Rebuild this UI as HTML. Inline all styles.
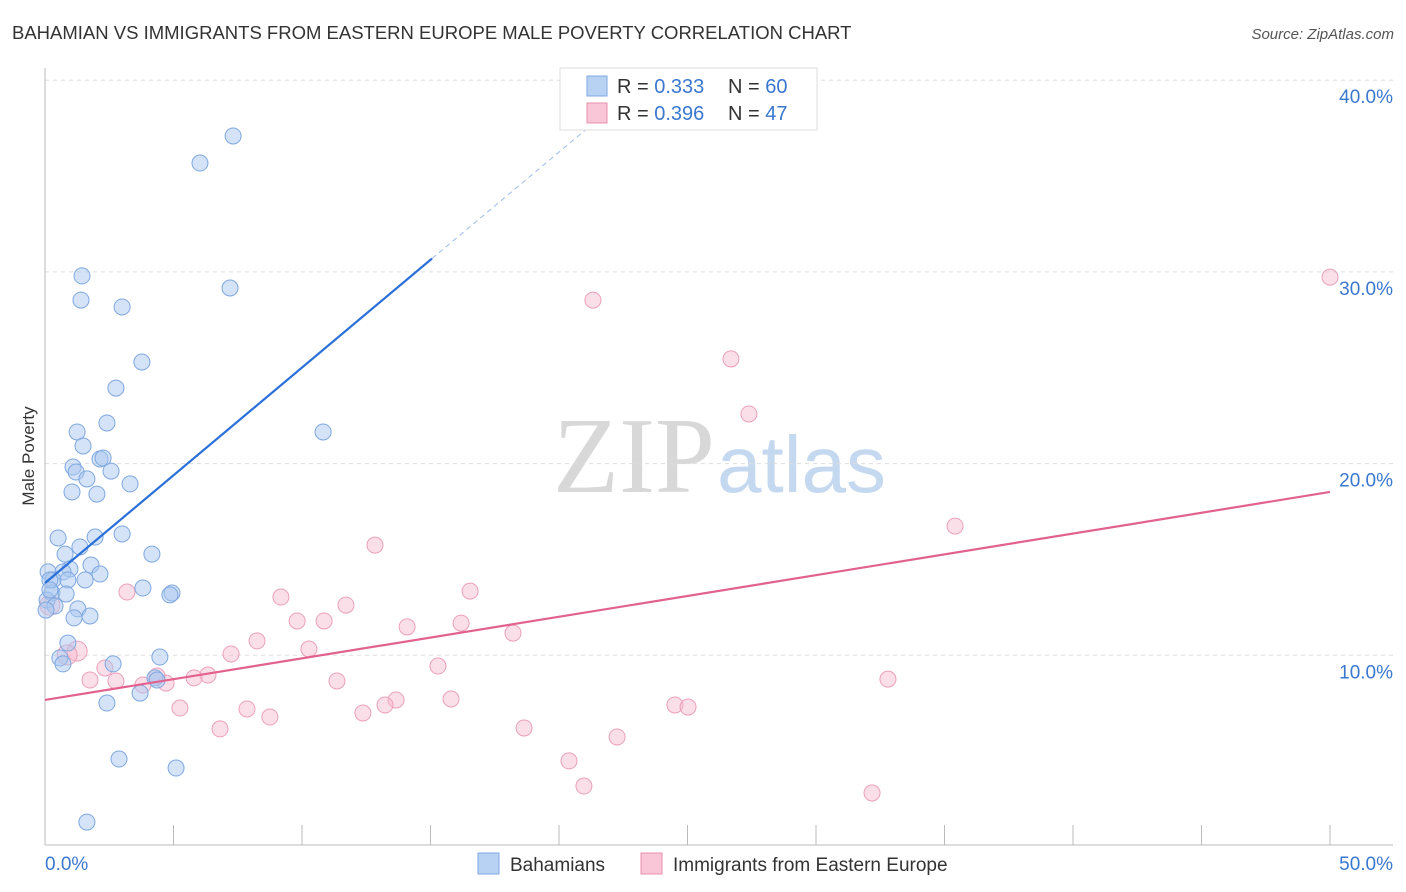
<!DOCTYPE html>
<html><head><meta charset="utf-8"><style>
body{margin:0;background:#fff;font-family:"Liberation Sans",sans-serif;}
#wrap{position:relative;width:1406px;height:892px;overflow:hidden;}
</style></head><body>
<div id="wrap">
<svg id="svg" width="1406" height="892" xmlns="http://www.w3.org/2000/svg">
<text x="12" y="39" font-size="18.5" fill="#333">BAHAMIAN VS IMMIGRANTS FROM EASTERN EUROPE MALE POVERTY CORRELATION CHART</text>
<text x="1394" y="39" font-size="15" fill="#555" font-style="italic" text-anchor="end">Source: ZipAtlas.com</text>
<text transform="translate(34,456) rotate(-90)" font-size="17" fill="#333" text-anchor="middle">Male Poverty</text>
<text x="553" y="492" font-size="108" fill="#d8d8d8" font-family="Liberation Serif,serif">ZIP</text>
<text x="717" y="492" font-size="80" fill="#c4d8f0">atlas</text>
<g id="grid"></g><g id="axes"></g><g id="marks"></g>
<g>
<rect x="560" y="68" width="257" height="62" fill="#fff" stroke="#ddd"/>
<rect x="587" y="76" width="20" height="20" fill="#b8d2f4" stroke="#7fa8e0"/>
<rect x="587" y="103" width="20" height="20" fill="#f8c6d6" stroke="#e890ae"/>
<text x="617" y="93" font-size="20" fill="#333">R = <tspan fill="#3a78d0">0.333</tspan></text>
<text x="728" y="93" font-size="20" fill="#333">N = <tspan fill="#3a78d0">60</tspan></text>
<text x="617" y="120" font-size="20" fill="#333">R = <tspan fill="#3a78d0">0.396</tspan></text>
<text x="728" y="120" font-size="20" fill="#333">N = <tspan fill="#3a78d0"> 47</tspan></text>
</g>
<g>
<rect x="478" y="853" width="21" height="21" fill="#b8d2f4" stroke="#7fa8e0"/>
<text x="510" y="871" font-size="19" fill="#333">Bahamians</text>
<rect x="641" y="853" width="21" height="21" fill="#f8c6d6" stroke="#e890ae"/>
<text x="673" y="871" font-size="19" fill="#333">Immigrants from Eastern Europe</text>
</g>
</svg>
</div>
<script>
const blueX=[6.03,7.32,1.44,1.40,3.00,7.20,3.77,2.76,2.41,1.25,1.48,10.82,1.09,1.21,2.14,2.26,2.57,1.63,3.31,1.05,2.02,0.51,1.95,3.00,1.36,0.78,4.16,1.79,0.97,0.70,2.14,0.12,0.31,0.89,1.56,3.81,4.94,4.86,0.27,0.82,0.08,0.39,1.28,1.75,1.13,0.89,0.58,0.70,2.65,4.47,4.28,4.36,3.70,2.41,2.88,5.10,1.63,0.19,0.19,0.04];
const blueY=[35.68,37.09,29.79,28.53,28.17,29.16,25.30,23.94,22.12,21.65,20.92,21.65,19.82,19.56,20.24,20.29,19.61,19.20,18.94,18.52,18.41,16.12,16.17,16.33,15.65,15.28,15.28,14.71,14.50,14.35,14.24,14.35,13.93,13.93,13.93,13.51,13.25,13.15,13.25,13.20,12.88,12.57,12.42,12.05,11.95,10.64,9.86,9.55,9.55,9.91,8.82,8.71,8.03,7.51,4.59,4.12,1.30,13.93,13.41,12.36];
const pinkX=[50.0,21.32,26.69,27.39,35.41,12.84,16.54,3.19,9.18,11.71,9.81,10.86,14.09,16.19,18.21,8.25,10.27,1.25,0.86,7.24,15.29,2.33,6.34,5.80,11.36,2.76,1.75,3.81,4.36,4.71,32.80,13.66,13.23,15.80,24.51,25.02,5.25,7.86,12.37,8.75,6.81,18.64,22.26,20.39,20.97,32.18,0.19];
const pinkY=[29.73,28.53,25.46,22.59,16.74,15.75,13.35,13.30,13.04,12.62,11.79,11.79,11.48,11.68,11.16,10.75,10.33,10.22,10.02,10.07,9.44,9.34,8.97,8.82,8.66,8.66,8.71,8.45,8.92,8.55,8.76,7.67,7.41,7.72,7.41,7.30,7.25,7.20,6.99,6.78,6.16,6.21,5.74,4.49,3.18,2.82,12.62];
const blueTrend=[13.77,1.124]; // intercept, slope
const pinkTrend=[7.67,0.217];
const yTicks=[10,20,30,40];
const yTickLabels=["10.0%","20.0%","30.0%","40.0%"];
const xLabels=["0.0%","50.0%"];
const NS="http://www.w3.org/2000/svg";
const X=v=>45+v*25.7, Y=v=>847-v*19.17;
function mk(tag,attrs,parent){const e=document.createElementNS(NS,tag);for(const k in attrs)e.setAttribute(k,attrs[k]);document.getElementById(parent).appendChild(e);return e;}
yTicks.forEach((t,i)=>{
 const g=mk('line',{x1:45,x2:1393,y1:Y(t),y2:Y(t),stroke:'#ddd','stroke-dasharray':'4,4'},'grid');
 
 
 const l=mk('text',{x:1393,y:Y(t)+23,'font-size':19,fill:'#3a78d0','text-anchor':'end'},'grid');
 l.textContent=yTickLabels[i];
 
 
});
mk('line',{x1:45,x2:45,y1:68,y2:845,stroke:'#bbb'},'axes');
mk('line',{x1:45,x2:1393,y1:845,y2:845,stroke:'#bbb'},'axes');
for(let i=1;i<=10;i++){const t=mk('line',{x1:X(i*5),x2:X(i*5),y1:825,y2:845,stroke:'#bbb'},'axes');
 
 }
const xl0=mk('text',{x:45,y:870,'font-size':19,fill:'#3a78d0'},'axes');xl0.textContent=xLabels[0];


const xl1=mk('text',{x:1393,y:870,'font-size':19,fill:'#3a78d0','text-anchor':'end'},'axes');xl1.textContent=xLabels[1];


pinkX.forEach((x,i)=>{const c=mk('circle',{cx:X(x),cy:Y(pinkY[i]),r:x<1.5?10:8,fill:'rgba(246,184,204,0.45)',stroke:'#eba0bb','stroke-width':1},'marks');
 
 });
blueX.forEach((x,i)=>{const c=mk('circle',{cx:X(x),cy:Y(blueY[i]),r:8,fill:'rgba(169,200,240,0.5)',stroke:'#7fa8e0','stroke-width':1},'marks');
 
 });
const bl=mk('line',{x1:X(0),y1:Y(blueTrend[0]),x2:X(15.06),y2:Y(blueTrend[0]+blueTrend[1]*15.06),stroke:'#2a70d8','stroke-width':2.2},'marks');


const bd=mk('line',{x1:X(15.06),y1:Y(blueTrend[0]+blueTrend[1]*15.06),x2:X(21.8),y2:Y(blueTrend[0]+blueTrend[1]*21.8),stroke:'#9cbbe8','stroke-width':1,'stroke-dasharray':'5,4'},'marks');


const pl=mk('line',{x1:X(0),y1:Y(pinkTrend[0]),x2:X(50),y2:Y(pinkTrend[0]+pinkTrend[1]*50),stroke:'#e2628f','stroke-width':2.2},'marks');


</script>
</body></html>
